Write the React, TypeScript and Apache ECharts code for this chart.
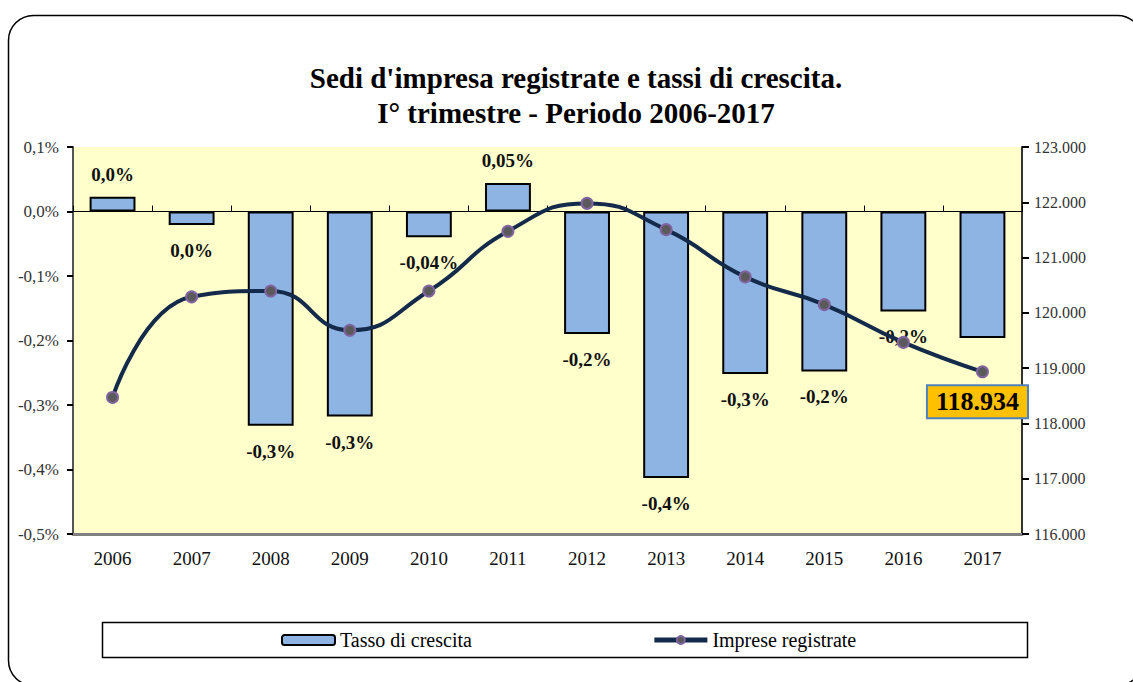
import React, { useEffect, useRef } from "react";
import * as echarts from "echarts";

const years = ["2006", "2007", "2008", "2009", "2010", "2011", "2012", "2013", "2014", "2015", "2016", "2017"];
const growthRate = [0.023, -0.021, -0.332, -0.318, -0.04, 0.044, -0.19, -0.413, -0.252, -0.248, -0.155, -0.196];
const growthLabels = ["0,0%", "0,0%", "-0,3%", "-0,3%", "-0,04%", "0,05%", "-0,2%", "-0,4%", "-0,3%", "-0,2%", "-0,2%", ""];
const registered = [118470, 120290, 120395, 119685, 120395, 121475, 121980, 121505, 120650, 120150, 119465, 118934];
const titleText = "Sedi d'impresa registrate e tassi di crescita.\nI° trimestre - Periodo 2006-2017";
const seriesNames = ["Tasso di crescita", "Imprese registrate"];

const SERIF = "Liberation Serif";

export default function App() {
  const ref = useRef<HTMLDivElement>(null);
  useEffect(() => {
    if (!ref.current) return;
    const chart = echarts.init(ref.current, undefined, { renderer: "svg" });
    const lastIdx = registered.length - 1;
    chart.setOption({
      animation: false,
      backgroundColor: "#ffffff",
      title: {
        text: titleText,
        left: 576,
        top: 60,
        textAlign: "center",
        padding: 0,
        textStyle: { fontFamily: SERIF, fontWeight: "bold", fontSize: 29, lineHeight: 35, color: "#000" },
      },
      graphic: [
        {
          type: "rect",
          shape: { x: 8.5, y: 15.5, width: 1134, height: 670, r: 25 },
          style: { fill: "none", stroke: "#000", lineWidth: 1.5 },
          silent: true,
          z: -10,
        },
        {
          type: "rect",
          shape: { x: 102.5, y: 622.5, width: 925, height: 35 },
          style: { fill: "none", stroke: "#000", lineWidth: 1.5 },
          silent: true,
        },
      ],
      legend: {
        left: 281,
        top: 630,
        itemWidth: 53,
        itemHeight: 10,
        itemGap: 180,
        padding: 0,
        lineStyle: { width: 5 },
        textStyle: { fontFamily: SERIF, fontSize: 20, color: "#000" },
        data: seriesNames,
      },
      grid: {
        left: 73,
        right: 111,
        top: 147,
        bottom: 148,
        containLabel: false,
        show: true,
        backgroundColor: "#FFFFCC",
        borderWidth: 0,
      },
      xAxis: [
        {
          type: "category",
          data: years,
          position: "bottom",
          axisLine: { show: true, onZero: true, lineStyle: { color: "#000", width: 1 } },
          axisTick: { show: true, inside: true, length: 6, lineStyle: { color: "#000" } },
          axisLabel: { show: false },
          splitLine: { show: false },
        },
        {
          type: "category",
          data: years,
          position: "bottom",
          axisLine: { show: true, onZero: false, lineStyle: { color: "#808080", width: 3 } },
          axisTick: { show: false },
          axisLabel: { show: true, margin: 15, fontFamily: SERIF, fontSize: 19, color: "#111" },
        },
      ],
      yAxis: [
        {
          type: "value",
          min: -0.5,
          max: 0.1,
          interval: 0.1,
          position: "left",
          axisLine: { show: true, lineStyle: { color: "#555", width: 2 } },
          axisTick: { show: true, length: 6, lineStyle: { color: "#000", width: 2 } },
          axisLabel: {
            margin: 14,
            fontFamily: SERIF,
            fontSize: 17,
            color: "#333",
            formatter: (v: number) => (Math.abs(v) < 1e-9 ? "0,0%" : v.toFixed(1).replace(".", ",") + "%"),
          },
          splitLine: { show: false },
        },
        {
          type: "value",
          min: 116000,
          max: 123000,
          interval: 1000,
          position: "right",
          axisLine: { show: true, lineStyle: { color: "#333", width: 2 } },
          axisTick: { show: true, length: 7, lineStyle: { color: "#000", width: 2 } },
          axisLabel: {
            margin: 12,
            fontFamily: SERIF,
            fontSize: 16,
            color: "#333",
            formatter: (v: number) => Math.round(v / 1000) + ".000",
          },
          splitLine: { show: false },
        },
      ],
      series: [
        {
          name: seriesNames[0],
          type: "bar",
          xAxisIndex: 0,
          yAxisIndex: 0,
          barWidth: "58%",
          itemStyle: { color: "#8EB4E3", borderColor: "#000", borderWidth: 2 },
          data: growthRate.map((v, i) => ({
            value: v,
            label: {
              show: growthLabels[i] !== "",
              position: v >= 0 ? "top" : "bottom",
              distance: v >= 0 ? 13 : 16,
            },
          })),
          label: {
            show: true,
            fontFamily: SERIF,
            fontWeight: "bold",
            fontSize: 19,
            color: "#111",
            formatter: (p: any) => growthLabels[p.dataIndex],
          },
          z: 2,
        },
        {
          name: seriesNames[1],
          type: "line",
          xAxisIndex: 0,
          yAxisIndex: 1,
          smooth: 0.5,
          symbol: "circle",
          symbolSize: 11,
          lineStyle: { color: "#132A4A", width: 4 },
          itemStyle: { color: "#5A5A5A", borderColor: "#8064A2", borderWidth: 2 },
          data: registered.map((v, i) =>
            i === lastIdx
              ? {
                  value: v,
                  label: {
                    show: true,
                    position: "bottom",
                    distance: 8,
                    offset: [-5, 0],
                    formatter: (p: any) => String(p.value).replace(/(\d{3})$/, ".$1"),
                    fontFamily: SERIF,
                    fontWeight: "bold",
                    fontSize: 26,
                    lineHeight: 25,
                    color: "#000",
                    backgroundColor: "#FFC000",
                    borderColor: "#4F81BD",
                    borderWidth: 2,
                    padding: [3, 8],
                  },
                }
              : v
          ),
          z: 5,
        },
      ],
    });
    return () => chart.dispose();
  }, []);
  return <div ref={ref} style={{ position: "fixed", left: 0, top: 0, width: 1133, height: 682 }} />;
}
